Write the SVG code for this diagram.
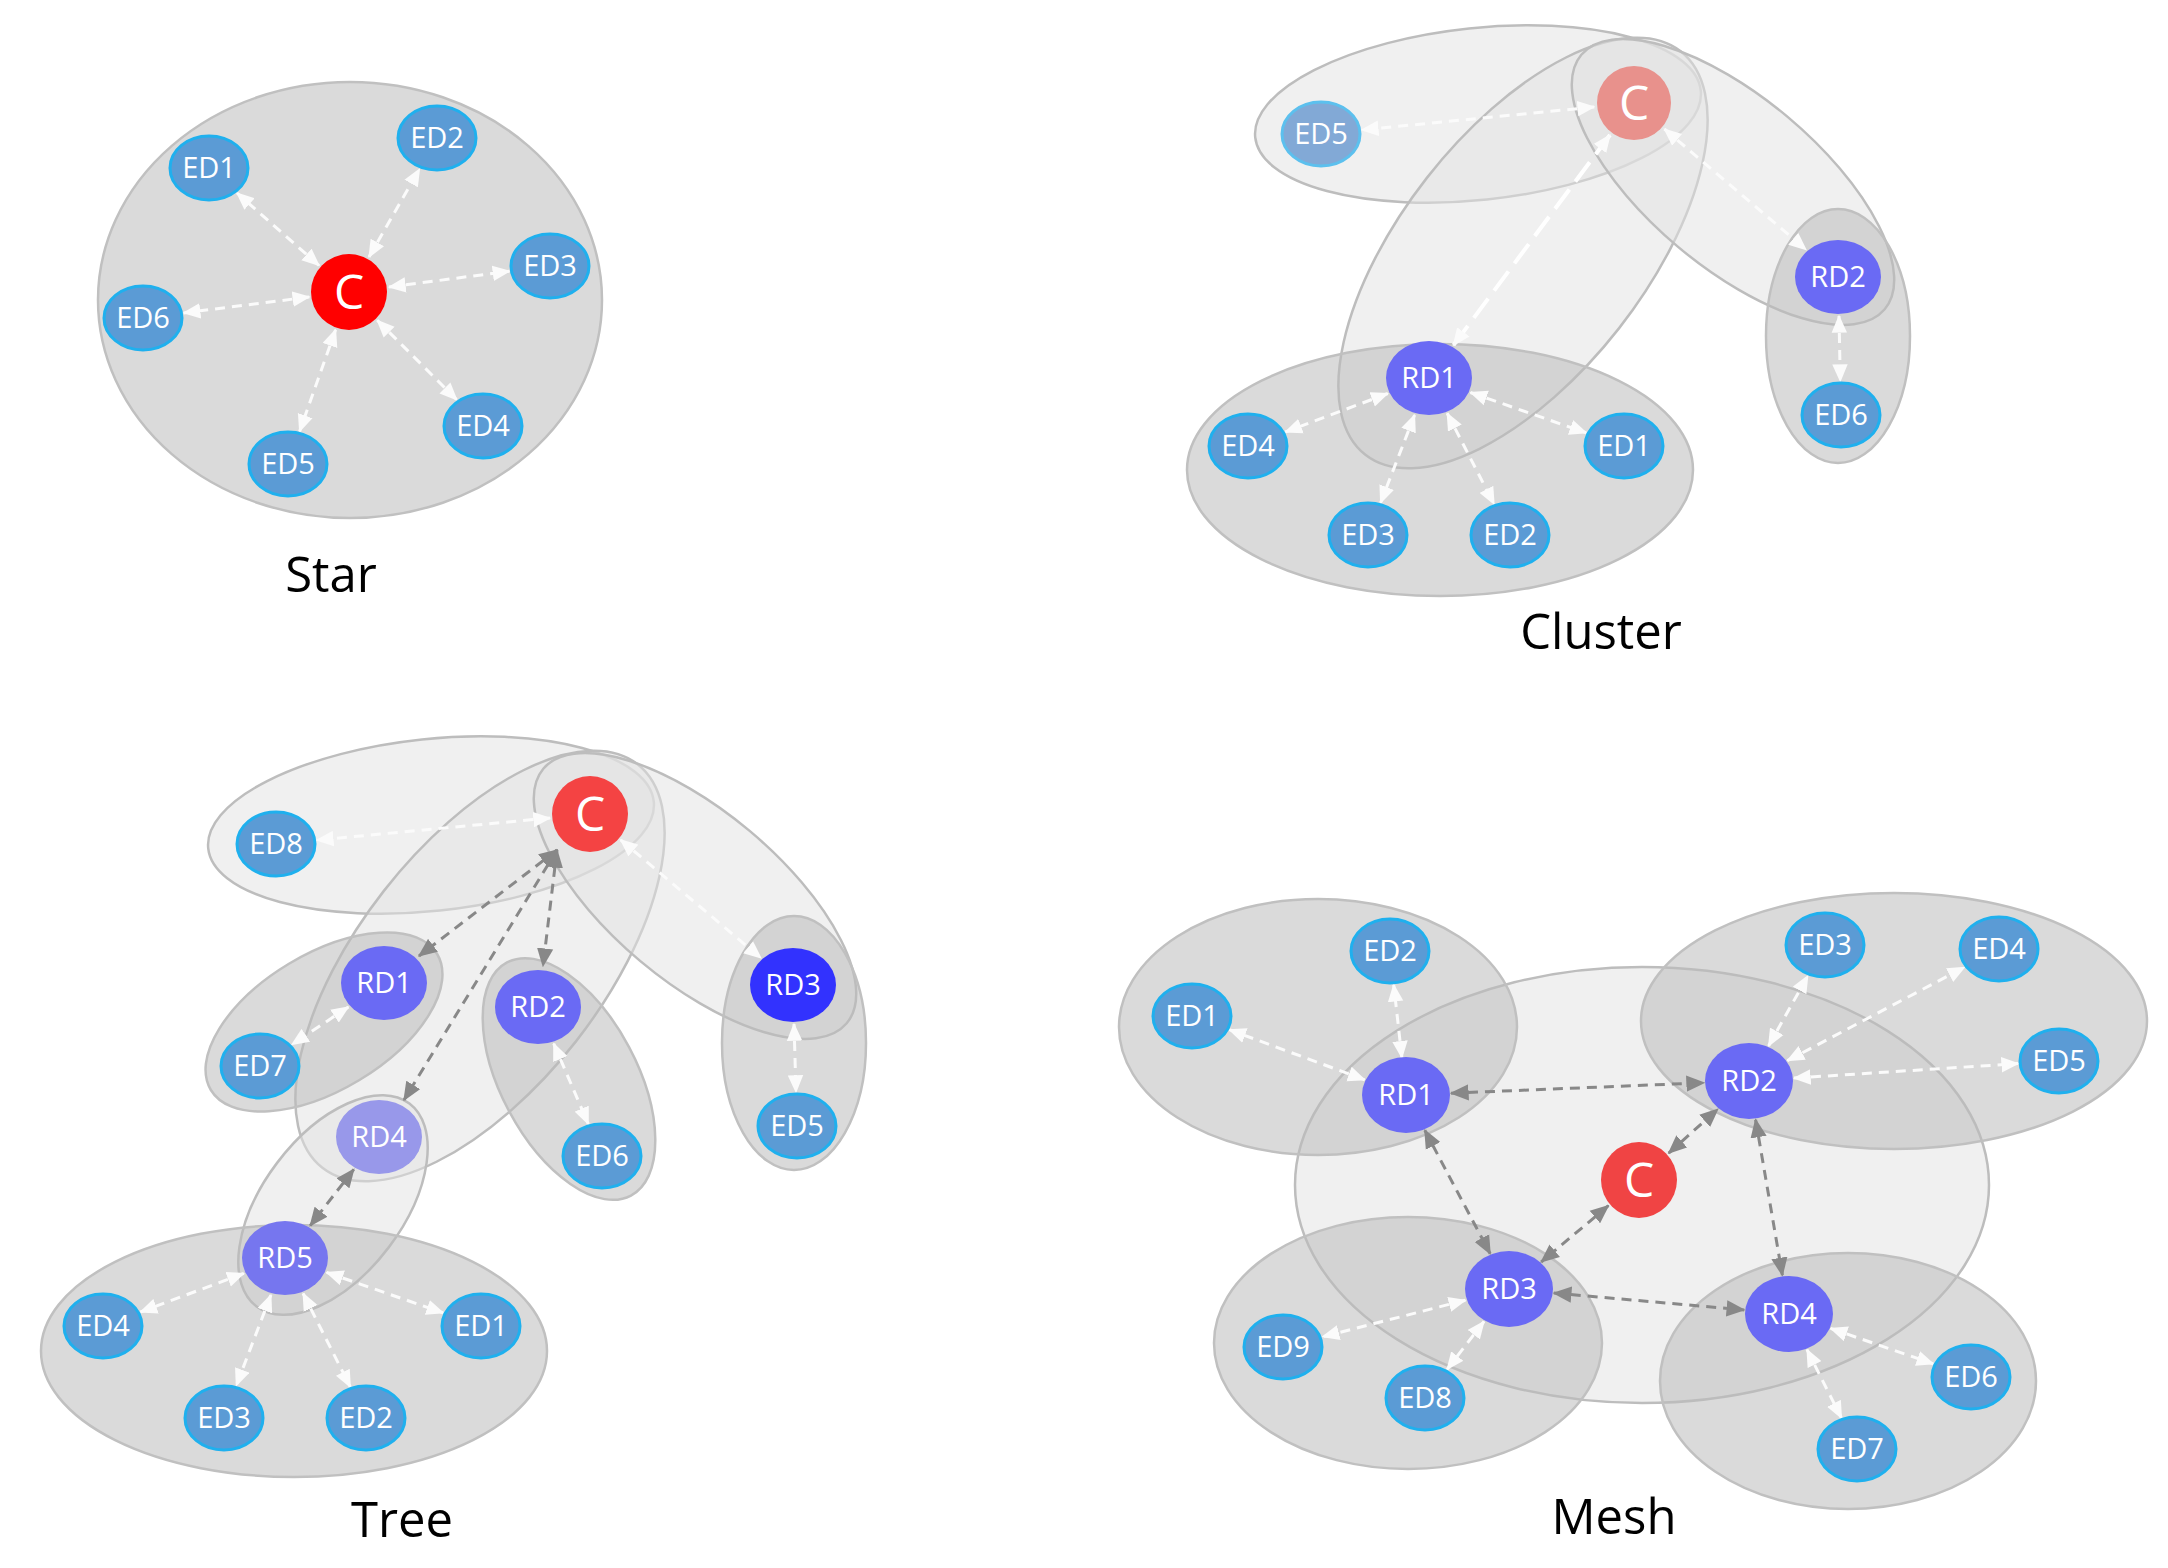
<svg xmlns="http://www.w3.org/2000/svg" width="2168" height="1568" viewBox="0 0 2168 1568">
<style>
.lt{fill:#e2e2e2;fill-opacity:0.5;stroke:#bdbdbd;stroke-width:2.5}
.gr{fill:#bcbcbc;fill-opacity:0.55;stroke:#c0c0c0;stroke-width:2.5}
.ed{fill:#5b9bd5;stroke:#1fb0ee;stroke-width:3}
.rd{fill:#6a6af4}
.lbl{font-family:"Open Sans","Noto Sans",sans-serif;font-size:29px;fill:#ffffff;text-anchor:middle}
.cl{font-family:"Open Sans","Noto Sans",sans-serif;font-size:48px;fill:#ffffff;text-anchor:middle}
.title{font-family:"Open Sans","Noto Sans",sans-serif;font-size:49px;fill:#000000;text-anchor:middle}
.w{fill:none;stroke:#fbfbfb;stroke-width:3;stroke-dasharray:10 7;marker-start:url(#aw);marker-end:url(#aw)}
.g{fill:none;stroke:#888888;stroke-width:3;stroke-dasharray:10 7;marker-start:url(#ag);marker-end:url(#ag)}
</style>
<defs>
<marker id="aw" viewBox="0 0 14 12" refX="13" refY="6" markerWidth="18" markerHeight="16" markerUnits="userSpaceOnUse" orient="auto-start-reverse"><path d="M0,0 L14,6 L0,12 z" fill="#fbfbfb"/></marker>
<marker id="ag" viewBox="0 0 14 12" refX="13" refY="6" markerWidth="19" markerHeight="17" markerUnits="userSpaceOnUse" orient="auto-start-reverse"><path d="M0,0 L14,6 L0,12 z" fill="#888888"/></marker>
</defs>
<rect width="2168" height="1568" fill="#ffffff"/>

<!-- regions -->
<g id="regions">
  <g id="star-region"><ellipse class="gr" cx="350" cy="300" rx="252" ry="218"/></g>
  <g id="cluster-regions">
    <ellipse class="lt" cx="1478" cy="114" rx="224" ry="86" transform="rotate(-6 1478 114)"/>
    <ellipse class="lt" cx="1523" cy="253" rx="256" ry="122" transform="rotate(-52 1523 253)"/>
    <ellipse class="lt" cx="1733" cy="182" rx="198" ry="85" transform="rotate(40 1733 182)"/>
    <ellipse class="gr" cx="1838" cy="336" rx="72" ry="127"/>
    <ellipse class="gr" cx="1440" cy="470" rx="253" ry="126"/>
  </g>
  <g id="tree-regions">
    <ellipse class="lt" cx="431" cy="825" rx="224" ry="86" transform="rotate(-6 431 825)"/>
    <ellipse class="lt" cx="480" cy="966" rx="256" ry="122" transform="rotate(-52 480 966)"/>
    <ellipse class="lt" cx="695" cy="896" rx="198" ry="85" transform="rotate(40 695 896)"/>
    <ellipse class="lt" cx="333" cy="1205" rx="127" ry="70" transform="rotate(-53 333 1205)"/>
    <ellipse class="gr" cx="324" cy="1022" rx="132" ry="68" transform="rotate(-31 324 1022)"/>
    <ellipse class="gr" cx="569" cy="1079" rx="132" ry="68" transform="rotate(62 569 1079)"/>
    <ellipse class="gr" cx="794" cy="1043" rx="72" ry="127"/>
    <ellipse class="gr" cx="294" cy="1351" rx="253" ry="126"/>
  </g>
  <g id="mesh-regions">
    <ellipse class="lt" cx="1642" cy="1185" rx="347" ry="218"/>
    <ellipse class="gr" cx="1318" cy="1027" rx="199" ry="128"/>
    <ellipse class="gr" cx="1894" cy="1021" rx="253" ry="128"/>
    <ellipse class="gr" cx="1408" cy="1343" rx="194" ry="126"/>
    <ellipse class="gr" cx="1848" cy="1381" rx="188" ry="128"/>
  </g>
</g>

<!-- connectors -->
<g id="connectors">
  <!-- star -->
  <line class="w" x1="319" y1="265.5" x2="237" y2="193"/>
  <line class="w" x1="369" y1="257" x2="419.5" y2="169"/>
  <line class="w" x1="389" y1="287" x2="509.4" y2="271.2"/>
  <line class="w" x1="377.3" y1="320.3" x2="456.8" y2="399.8"/>
  <line class="w" x1="335.6" y1="329.7" x2="299.6" y2="431.4"/>
  <line class="w" x1="309.3" y1="297" x2="183.7" y2="312.9"/>
  <!-- cluster -->
  <line class="w" x1="1594.2" y1="107" x2="1361.8" y2="129.9"/>
  <line class="w" x1="1610" y1="135" x2="1453.4" y2="345.3" style="stroke:#ffffff;stroke-width:4;stroke-dasharray:24 10"/>
  <line class="w" x1="1664.4" y1="129" x2="1806" y2="249.6"/>
  <line class="w" x1="1839" y1="316" x2="1840.3" y2="381"/>
  <line class="w" x1="1387.8" y1="393.5" x2="1285.3" y2="432"/>
  <line class="w" x1="1470.5" y1="392.5" x2="1586.3" y2="432.9"/>
  <line class="w" x1="1414.6" y1="415" x2="1380.6" y2="502.7"/>
  <line class="w" x1="1447.2" y1="413.3" x2="1494.1" y2="504.2"/>
  <!-- tree -->
  <line class="w" x1="550" y1="818" x2="316.8" y2="840.1"/>
  <line class="w" x1="620.6" y1="839.8" x2="760.9" y2="958"/>
  <line class="w" x1="794" y1="1024" x2="796" y2="1092"/>
  <line class="g" x1="557" y1="850" x2="419" y2="956"/>
  <line class="g" x1="557" y1="850" x2="543" y2="966"/>
  <line class="g" x1="557" y1="850" x2="404" y2="1100"/>
  <line class="w" x1="348.4" y1="1006.9" x2="291.9" y2="1044.6"/>
  <line class="w" x1="553.7" y1="1043.6" x2="588.3" y2="1124"/>
  <line class="g" x1="353.8" y1="1169.4" x2="310.2" y2="1225.6"/>
  <line class="w" x1="243.8" y1="1273.4" x2="140.4" y2="1312"/>
  <line class="w" x1="326.6" y1="1272.4" x2="443.2" y2="1312.9"/>
  <line class="w" x1="270.9" y1="1295" x2="236.3" y2="1385.5"/>
  <line class="w" x1="303.1" y1="1293.5" x2="350.4" y2="1387.1"/>
  <!-- mesh -->
  <line class="g" x1="1451" y1="1093.2" x2="1704" y2="1082.8"/>
  <line class="g" x1="1424.8" y1="1130.3" x2="1490.2" y2="1253.7"/>
  <line class="g" x1="1755.6" y1="1119.7" x2="1782.4" y2="1275.3"/>
  <line class="g" x1="1553.8" y1="1293" x2="1744.2" y2="1310"/>
  <line class="g" x1="1668.7" y1="1153.2" x2="1717.8" y2="1109.1"/>
  <line class="g" x1="1608.4" y1="1205.7" x2="1541.2" y2="1262"/>
  <line class="w" x1="1364.7" y1="1079.8" x2="1229.3" y2="1029.7"/>
  <line class="w" x1="1401.9" y1="1057.7" x2="1393.7" y2="984.8"/>
  <line class="w" x1="1768.6" y1="1045.9" x2="1807.8" y2="975.8"/>
  <line class="w" x1="1787.4" y1="1060.7" x2="1964.4" y2="967.3"/>
  <line class="w" x1="1794" y1="1078.1" x2="2018.1" y2="1063.6"/>
  <line class="w" x1="1465.4" y1="1300.2" x2="1322.6" y2="1336.8"/>
  <line class="w" x1="1484" y1="1321.5" x2="1447.1" y2="1369.3"/>
  <line class="w" x1="1830.6" y1="1328.4" x2="1933.3" y2="1363.9"/>
  <line class="w" x1="1807" y1="1349.7" x2="1841.5" y2="1418.2"/>
</g>

<!-- STAR nodes -->
<g id="star-C"><circle cx="349" cy="292" r="38" fill="#ff0000"/><text class="cl" x="349" y="309">C</text></g>
<g id="star-ED1"><ellipse class="ed" cx="209" cy="168" rx="39" ry="32"/><text class="lbl" x="209" y="178">ED1</text></g>
<g id="star-ED2"><ellipse class="ed" cx="437" cy="138" rx="39" ry="32"/><text class="lbl" x="437" y="148">ED2</text></g>
<g id="star-ED3"><ellipse class="ed" cx="550" cy="266" rx="39" ry="32"/><text class="lbl" x="550" y="276">ED3</text></g>
<g id="star-ED4"><ellipse class="ed" cx="483" cy="426" rx="39" ry="32"/><text class="lbl" x="483" y="436">ED4</text></g>
<g id="star-ED5"><ellipse class="ed" cx="288" cy="464" rx="39" ry="32"/><text class="lbl" x="288" y="474">ED5</text></g>
<g id="star-ED6"><ellipse class="ed" cx="143" cy="318" rx="39" ry="32"/><text class="lbl" x="143" y="328">ED6</text></g>

<!-- CLUSTER nodes -->
<g id="cluster-C"><circle cx="1634" cy="103" r="37" fill="#e8918c"/><text class="cl" x="1634" y="120">C</text></g>
<g id="cluster-ED5"><ellipse cx="1321" cy="134" rx="39" ry="32" fill="#82a9d6" stroke="#5cc0ee" stroke-width="3"/><text class="lbl" x="1321" y="144">ED5</text></g>
<g id="cluster-RD1"><ellipse class="rd" cx="1429" cy="378" rx="43" ry="37"/><text class="lbl" x="1429" y="388">RD1</text></g>
<g id="cluster-RD2"><ellipse class="rd" cx="1838" cy="277" rx="43" ry="37"/><text class="lbl" x="1838" y="287">RD2</text></g>
<g id="cluster-ED6"><ellipse class="ed" cx="1841" cy="415" rx="39" ry="32"/><text class="lbl" x="1841" y="425">ED6</text></g>
<g id="cluster-ED4"><ellipse class="ed" cx="1248" cy="446" rx="39" ry="32"/><text class="lbl" x="1248" y="456">ED4</text></g>
<g id="cluster-ED1"><ellipse class="ed" cx="1624" cy="446" rx="39" ry="32"/><text class="lbl" x="1624" y="456">ED1</text></g>
<g id="cluster-ED3"><ellipse class="ed" cx="1368" cy="535" rx="39" ry="32"/><text class="lbl" x="1368" y="545">ED3</text></g>
<g id="cluster-ED2"><ellipse class="ed" cx="1510" cy="535" rx="39" ry="32"/><text class="lbl" x="1510" y="545">ED2</text></g>

<!-- TREE nodes -->
<g id="tree-C"><circle cx="590" cy="814" r="38" fill="#f44343"/><text class="cl" x="590" y="831">C</text></g>
<g id="tree-ED8"><ellipse class="ed" cx="276" cy="844" rx="39" ry="32"/><text class="lbl" x="276" y="854">ED8</text></g>
<g id="tree-RD1"><ellipse class="rd" cx="384" cy="983" rx="43" ry="37"/><text class="lbl" x="384" y="993">RD1</text></g>
<g id="tree-ED7"><ellipse class="ed" cx="260" cy="1066" rx="39" ry="32"/><text class="lbl" x="260" y="1076">ED7</text></g>
<g id="tree-RD2"><ellipse class="rd" cx="538" cy="1007" rx="43" ry="37"/><text class="lbl" x="538" y="1017">RD2</text></g>
<g id="tree-ED6"><ellipse class="ed" cx="602" cy="1156" rx="39" ry="32"/><text class="lbl" x="602" y="1166">ED6</text></g>
<g id="tree-RD3"><ellipse cx="793" cy="985" rx="43" ry="37" fill="#3232fe"/><text class="lbl" x="793" y="995">RD3</text></g>
<g id="tree-ED5"><ellipse class="ed" cx="797" cy="1126" rx="39" ry="32"/><text class="lbl" x="797" y="1136">ED5</text></g>
<g id="tree-RD4"><ellipse cx="379" cy="1137" rx="43" ry="37" fill="#9898ea"/><text class="lbl" x="379" y="1147">RD4</text></g>
<g id="tree-RD5"><ellipse cx="285" cy="1258" rx="43" ry="37" fill="#7676ef"/><text class="lbl" x="285" y="1268">RD5</text></g>
<g id="tree-ED4"><ellipse class="ed" cx="103" cy="1326" rx="39" ry="32"/><text class="lbl" x="103" y="1336">ED4</text></g>
<g id="tree-ED1"><ellipse class="ed" cx="481" cy="1326" rx="39" ry="32"/><text class="lbl" x="481" y="1336">ED1</text></g>
<g id="tree-ED3"><ellipse class="ed" cx="224" cy="1418" rx="39" ry="32"/><text class="lbl" x="224" y="1428">ED3</text></g>
<g id="tree-ED2"><ellipse class="ed" cx="366" cy="1418" rx="39" ry="32"/><text class="lbl" x="366" y="1428">ED2</text></g>

<!-- MESH nodes -->
<g id="mesh-C"><circle cx="1639" cy="1180" r="38" fill="#f04444"/><text class="cl" x="1639" y="1197">C</text></g>
<g id="mesh-RD1"><ellipse class="rd" cx="1406" cy="1095" rx="44" ry="38"/><text class="lbl" x="1406" y="1105">RD1</text></g>
<g id="mesh-RD2"><ellipse class="rd" cx="1749" cy="1081" rx="44" ry="38"/><text class="lbl" x="1749" y="1091">RD2</text></g>
<g id="mesh-RD3"><ellipse class="rd" cx="1509" cy="1289" rx="44" ry="38"/><text class="lbl" x="1509" y="1299">RD3</text></g>
<g id="mesh-RD4"><ellipse class="rd" cx="1789" cy="1314" rx="44" ry="38"/><text class="lbl" x="1789" y="1324">RD4</text></g>
<g id="mesh-ED1"><ellipse class="ed" cx="1192" cy="1016" rx="39" ry="32"/><text class="lbl" x="1192" y="1026">ED1</text></g>
<g id="mesh-ED2"><ellipse class="ed" cx="1390" cy="951" rx="39" ry="32"/><text class="lbl" x="1390" y="961">ED2</text></g>
<g id="mesh-ED3"><ellipse class="ed" cx="1825" cy="945" rx="39" ry="32"/><text class="lbl" x="1825" y="955">ED3</text></g>
<g id="mesh-ED4"><ellipse class="ed" cx="1999" cy="949" rx="39" ry="32"/><text class="lbl" x="1999" y="959">ED4</text></g>
<g id="mesh-ED5"><ellipse class="ed" cx="2059" cy="1061" rx="39" ry="32"/><text class="lbl" x="2059" y="1071">ED5</text></g>
<g id="mesh-ED6"><ellipse class="ed" cx="1971" cy="1377" rx="39" ry="32"/><text class="lbl" x="1971" y="1387">ED6</text></g>
<g id="mesh-ED7"><ellipse class="ed" cx="1857" cy="1449" rx="39" ry="32"/><text class="lbl" x="1857" y="1459">ED7</text></g>
<g id="mesh-ED8"><ellipse class="ed" cx="1425" cy="1398" rx="39" ry="32"/><text class="lbl" x="1425" y="1408">ED8</text></g>
<g id="mesh-ED9"><ellipse class="ed" cx="1283" cy="1347" rx="39" ry="32"/><text class="lbl" x="1283" y="1357">ED9</text></g>

<!-- titles -->
<g id="titles">
  <text class="title" x="331" y="592">Star</text>
  <text class="title" x="1601" y="649">Cluster</text>
  <text class="title" x="402" y="1537">Tree</text>
  <text class="title" x="1614" y="1534">Mesh</text>
</g>
</svg>
